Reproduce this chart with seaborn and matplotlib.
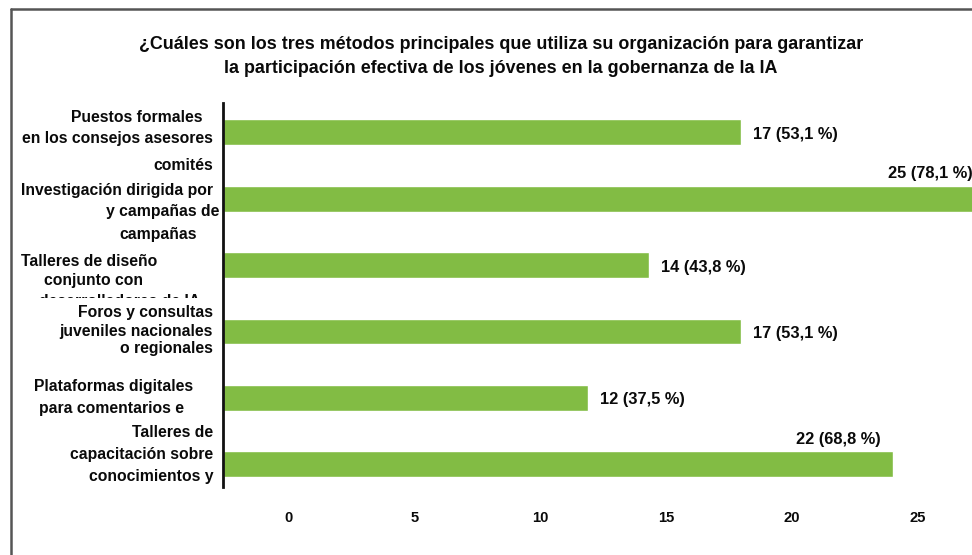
import matplotlib
matplotlib.use("Agg")
import matplotlib.pyplot as plt
from matplotlib.lines import Line2D
from matplotlib.transforms import Bbox, TransformedBbox
import seaborn as sns
import pandas as pd

# ---------------- data ----------------
categories = [
    "Puestos formales\nen los consejos asesores\ncomités",
    "Investigación dirigida por\ny campañas de\ncampañas",
    "Talleres de diseño\nconjunto con\ndesarrolladores de IA",
    "Foros y consultas\njuveniles nacionales\no regionales",
    "Plataformas digitales\npara comentarios e",
    "Talleres de\ncapacitación sobre\nconocimientos y",
]
counts = [17, 25, 14, 17, 12, 22]
percents = [53.1, 78.1, 43.8, 53.1, 37.5, 68.8]
tick_values = [0, 5, 10, 15, 20, 25]
title = ("¿Cuáles son los tres métodos principales que utiliza su organización para garantizar\n"
         "la participación efectiva de los jóvenes en la gobernanza de la IA")

# ---------------- style ----------------
sns.set_theme(style="white")
plt.rcParams["font.family"] = ["Liberation Sans", "DejaVu Sans"]
GREEN = "#82BC44"
TXT = "#0a0a0a"
DPI = 100
W, H = 972, 555

fig = plt.figure(figsize=(W / DPI, H / DPI), dpi=DPI)
fig.patch.set_facecolor("white")

ax_left, ax_right = 223, 972
ax_top, ax_bottom = 103, 487
ax = fig.add_axes([ax_left / W, 1 - ax_bottom / H, (ax_right - ax_left) / W, (ax_bottom - ax_top) / H])

df = pd.DataFrame({"cat": categories, "n": counts})
sns.barplot(data=df, x="n", y="cat", orient="h", color=GREEN, width=0.39,
            saturation=1, ax=ax)

px_per_unit = 30.45
ax.set_xlim(0, (ax_right - ax_left) / px_per_unit)
ax.set_ylim(5.34, -0.44)
ax.set_xlabel("")
ax.set_ylabel("")
ax.set_yticks([])
ax.set_xticks([])
for s in ["top", "right", "bottom"]:
    ax.spines[s].set_visible(False)
ax.spines["left"].set_color("#111111")
ax.spines["left"].set_linewidth(2.0)

# secondary tick scale as drawn in the reference
off, scl = 2.167, 0.8263
sec = ax.secondary_xaxis("bottom", functions=(lambda x: (x - off) / scl, lambda t: t * scl + off))
sec.set_xticks(tick_values)
sec.set_xticklabels([str(t) for t in tick_values], fontsize=10.6, fontweight="bold", color=TXT)
sec.tick_params(length=0, pad=17)
sec.spines["bottom"].set_visible(False)

# value labels
for i, (n, p) in enumerate(zip(counts, percents)):
    txt = f"{n} ({p:.1f} %)".replace(".", ",")
    if n >= 20:
        ax.annotate(txt, xy=(n, i), xycoords="data", xytext=(-12, 25), textcoords="offset pixels",
                    ha="right", va="center", fontsize=11.8, fontweight="bold", color=TXT,
                    annotation_clip=False)
    else:
        ax.annotate(txt, xy=(n, i), xycoords="data", xytext=(12, -2), textcoords="offset pixels",
                    ha="left", va="center", fontsize=11.8, fontweight="bold", color=TXT)

# category label lines: (right edge px, center y px) as laid out in the reference
line_layout = [
    [(202, 117.7), (213, 139), (213, 165)],
    [(213, 190), (219, 211.7), (197, 235)],
    [(157, 261.7), (143, 281), (200, 301)],
    [(213, 313), (213, 331.7), (213, 349)],
    [(193, 386), (184, 408)],
    [(213, 432.7), (213, 454), (213, 476)],
]
clip = TransformedBbox(Bbox([[0, 1 - 298 / H], [1, 1]]), fig.transFigure)
for i, cat in enumerate(categories):
    for (r, y), line in zip(line_layout[i], cat.split("\n")):
        t = fig.text(r / W, 1 - y / H, line, ha="right", va="center", fontsize=11.3,
                     fontweight="bold", color=TXT)
        if i == 2:
            t.set_clip_box(clip)

fig.text(501 / W, 1 - 56.5 / H, title, ha="center", va="center", fontsize=12.9,
         fontweight="bold", color=TXT, linespacing=1.52)

# outer frame
fig.add_artist(Line2D([11 / W, 11 / W], [0, 1 - 9 / H], color="#555555", lw=1.8))
fig.add_artist(Line2D([11 / W, 1], [1 - 9 / H, 1 - 9 / H], color="#555555", lw=1.8))

fig.savefig("out.png", dpi=DPI)
